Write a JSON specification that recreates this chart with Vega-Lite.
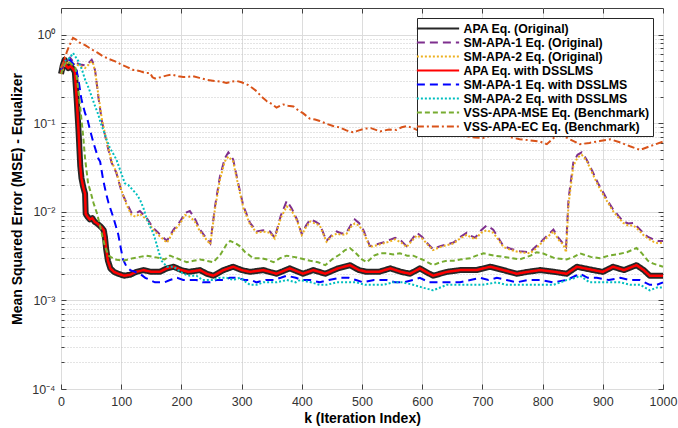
{
 "$schema": "https://vega.github.io/schema/vega-lite/v6.json",
 "width": 602, "height": 381,
 "autosize": {"type": "none"},
 "padding": {"left": 61, "top": 8, "right": 15, "bottom": 39},
 "background": "white",
 "config": {
  "font": "Liberation Sans",
  "view": {"stroke": "#404040", "strokeWidth": 1},
  "axis": {"labelFont": "Liberation Sans", "labelFontSize": 12.5, "labelColor": "#333333", "titleFont": "Liberation Sans", "titleFontSize": 14, "titleFontWeight": "bold", "titleColor": "#000000", "domain": false, "tickColor": "#404040", "tickSize": -5, "labelPadding": 11, "labelFlush": false, "labelOverlap": false},
  "legend": {"orient": "top-right", "offset": 10, "fillColor": "white", "strokeColor": "#262626", "padding": 3, "symbolType": "M-3.25,0H3.25", "symbolSize": 169, "symbolOffset": 10.5, "labelOffset": 18, "symbolStrokeWidth": 2, "labelFont": "Liberation Sans", "labelFontSize": 12.3, "labelFontWeight": "bold", "labelColor": "#000000", "labelLimit": 400, "rowPadding": 0, "title": null}
 },
 "resolve": {"axis": {"x": "independent", "y": "independent"}},
 "data": {"values": [
{"s":"a","k":0,"v":0.36},{"s":"a","k":3,"v":0.45},{"s":"a","k":6,"v":0.52},{"s":"a","k":9,"v":0.44},{"s":"a","k":12,"v":0.42},{"s":"a","k":16,"v":0.44},{"s":"a","k":20,"v":0.41},{"s":"a","k":23,"v":0.38},{"s":"a","k":26,"v":0.19},{"s":"a","k":29,"v":0.085},{"s":"a","k":32,"v":0.033},{"s":"a","k":34,"v":0.024},{"s":"a","k":37,"v":0.019},{"s":"a","k":40,"v":0.016},{"s":"a","k":41,"v":0.0095},{"s":"a","k":44,"v":0.0088},{"s":"a","k":48,"v":0.0082},{"s":"a","k":52,"v":0.0085},{"s":"a","k":56,"v":0.0077},{"s":"a","k":60,"v":0.0074},{"s":"a","k":64,"v":0.007},{"s":"a","k":68,"v":0.0066},{"s":"a","k":71,"v":0.0062},{"s":"a","k":73,"v":0.0052},{"s":"a","k":75,"v":0.0038},{"s":"a","k":78,"v":0.0028},{"s":"a","k":82,"v":0.0023},{"s":"a","k":88,"v":0.0021},{"s":"a","k":95,"v":0.002},{"s":"a","k":105,"v":0.0019},{"s":"a","k":115,"v":0.00195},{"s":"a","k":125,"v":0.0021},{"s":"a","k":137,"v":0.0022},{"s":"a","k":150,"v":0.0021},{"s":"a","k":164,"v":0.0021},{"s":"a","k":176,"v":0.0023},{"s":"a","k":187,"v":0.0024},{"s":"a","k":200,"v":0.0022},{"s":"a","k":212,"v":0.0021},{"s":"a","k":231,"v":0.0022},{"s":"a","k":242,"v":0.002},{"s":"a","k":253,"v":0.0019},{"s":"a","k":270,"v":0.0022},{"s":"a","k":286,"v":0.0024},{"s":"a","k":300,"v":0.0022},{"s":"a","k":314,"v":0.0021},{"s":"a","k":336,"v":0.0022},{"s":"a","k":358,"v":0.002},{"s":"a","k":380,"v":0.0023},{"s":"a","k":402,"v":0.002},{"s":"a","k":419,"v":0.0022},{"s":"a","k":439,"v":0.002},{"s":"a","k":460,"v":0.0023},{"s":"a","k":480,"v":0.0025},{"s":"a","k":495,"v":0.0022},{"s":"a","k":508,"v":0.0021},{"s":"a","k":528,"v":0.0021},{"s":"a","k":547,"v":0.0023},{"s":"a","k":565,"v":0.0021},{"s":"a","k":580,"v":0.002},{"s":"a","k":596,"v":0.0023},{"s":"a","k":618,"v":0.0019},{"s":"a","k":641,"v":0.0021},{"s":"a","k":663,"v":0.0022},{"s":"a","k":690,"v":0.0022},{"s":"a","k":713,"v":0.0024},{"s":"a","k":735,"v":0.0022},{"s":"a","k":757,"v":0.002},{"s":"a","k":775,"v":0.0021},{"s":"a","k":796,"v":0.0022},{"s":"a","k":820,"v":0.0021},{"s":"a","k":840,"v":0.002},{"s":"a","k":857,"v":0.0024},{"s":"a","k":870,"v":0.0023},{"s":"a","k":884,"v":0.0022},{"s":"a","k":900,"v":0.0021},{"s":"a","k":917,"v":0.0024},{"s":"a","k":935,"v":0.0022},{"s":"a","k":956,"v":0.0025},{"s":"a","k":968,"v":0.0022},{"s":"a","k":978,"v":0.0019},{"s":"a","k":990,"v":0.0019},{"s":"a","k":1000,"v":0.0019},
{"s":"d","k":0,"v":0.36},{"s":"d","k":3,"v":0.45},{"s":"d","k":6,"v":0.52},{"s":"d","k":9,"v":0.44},{"s":"d","k":12,"v":0.42},{"s":"d","k":16,"v":0.44},{"s":"d","k":20,"v":0.41},{"s":"d","k":23,"v":0.38},{"s":"d","k":26,"v":0.19},{"s":"d","k":29,"v":0.085},{"s":"d","k":32,"v":0.033},{"s":"d","k":34,"v":0.024},{"s":"d","k":37,"v":0.019},{"s":"d","k":40,"v":0.016},{"s":"d","k":41,"v":0.0095},{"s":"d","k":44,"v":0.0088},{"s":"d","k":48,"v":0.0082},{"s":"d","k":52,"v":0.0085},{"s":"d","k":56,"v":0.0077},{"s":"d","k":60,"v":0.0074},{"s":"d","k":64,"v":0.007},{"s":"d","k":68,"v":0.0066},{"s":"d","k":71,"v":0.0062},{"s":"d","k":73,"v":0.0052},{"s":"d","k":75,"v":0.0038},{"s":"d","k":78,"v":0.0028},{"s":"d","k":82,"v":0.0023},{"s":"d","k":88,"v":0.0021},{"s":"d","k":95,"v":0.002},{"s":"d","k":105,"v":0.0019},{"s":"d","k":115,"v":0.00195},{"s":"d","k":125,"v":0.0021},{"s":"d","k":137,"v":0.0022},{"s":"d","k":150,"v":0.0021},{"s":"d","k":164,"v":0.0021},{"s":"d","k":176,"v":0.0023},{"s":"d","k":187,"v":0.0024},{"s":"d","k":200,"v":0.0022},{"s":"d","k":212,"v":0.0021},{"s":"d","k":231,"v":0.0022},{"s":"d","k":242,"v":0.002},{"s":"d","k":253,"v":0.0019},{"s":"d","k":270,"v":0.0022},{"s":"d","k":286,"v":0.0024},{"s":"d","k":300,"v":0.0022},{"s":"d","k":314,"v":0.0021},{"s":"d","k":336,"v":0.0022},{"s":"d","k":358,"v":0.002},{"s":"d","k":380,"v":0.0023},{"s":"d","k":402,"v":0.002},{"s":"d","k":419,"v":0.0022},{"s":"d","k":439,"v":0.002},{"s":"d","k":460,"v":0.0023},{"s":"d","k":480,"v":0.0025},{"s":"d","k":495,"v":0.0022},{"s":"d","k":508,"v":0.0021},{"s":"d","k":528,"v":0.0021},{"s":"d","k":547,"v":0.0023},{"s":"d","k":565,"v":0.0021},{"s":"d","k":580,"v":0.002},{"s":"d","k":596,"v":0.0023},{"s":"d","k":618,"v":0.0019},{"s":"d","k":641,"v":0.0021},{"s":"d","k":663,"v":0.0022},{"s":"d","k":690,"v":0.0022},{"s":"d","k":713,"v":0.0024},{"s":"d","k":735,"v":0.0022},{"s":"d","k":757,"v":0.002},{"s":"d","k":775,"v":0.0021},{"s":"d","k":796,"v":0.0022},{"s":"d","k":820,"v":0.0021},{"s":"d","k":840,"v":0.002},{"s":"d","k":857,"v":0.0024},{"s":"d","k":870,"v":0.0023},{"s":"d","k":884,"v":0.0022},{"s":"d","k":900,"v":0.0021},{"s":"d","k":917,"v":0.0024},{"s":"d","k":935,"v":0.0022},{"s":"d","k":956,"v":0.0025},{"s":"d","k":968,"v":0.0022},{"s":"d","k":978,"v":0.0019},{"s":"d","k":990,"v":0.0019},{"s":"d","k":1000,"v":0.0019},
{"s":"b","k":0,"v":0.38},{"s":"b","k":5,"v":0.45},{"s":"b","k":10,"v":0.5},{"s":"b","k":15,"v":0.55},{"s":"b","k":20,"v":0.5},{"s":"b","k":25,"v":0.48},{"s":"b","k":32,"v":0.46},{"s":"b","k":40,"v":0.45},{"s":"b","k":46,"v":0.48},{"s":"b","k":51,"v":0.52},{"s":"b","k":54,"v":0.47},{"s":"b","k":57,"v":0.38},{"s":"b","k":62,"v":0.2},{"s":"b","k":68,"v":0.105},{"s":"b","k":76,"v":0.06},{"s":"b","k":84,"v":0.036},{"s":"b","k":92,"v":0.0275},{"s":"b","k":101,"v":0.0165},{"s":"b","k":109,"v":0.0126},{"s":"b","k":117,"v":0.0098},{"s":"b","k":124,"v":0.0096},{"s":"b","k":131,"v":0.0102},{"s":"b","k":142,"v":0.0086},{"s":"b","k":153,"v":0.0066},{"s":"b","k":164,"v":0.0056},{"s":"b","k":176,"v":0.0047},{"s":"b","k":187,"v":0.0063},{"s":"b","k":198,"v":0.0078},{"s":"b","k":206,"v":0.0097},{"s":"b","k":214,"v":0.0102},{"s":"b","k":222,"v":0.0085},{"s":"b","k":231,"v":0.0063},{"s":"b","k":240,"v":0.0052},{"s":"b","k":248,"v":0.0044},{"s":"b","k":256,"v":0.0117},{"s":"b","k":264,"v":0.025},{"s":"b","k":272,"v":0.04},{"s":"b","k":278,"v":0.047},{"s":"b","k":286,"v":0.039},{"s":"b","k":295,"v":0.02},{"s":"b","k":303,"v":0.0116},{"s":"b","k":314,"v":0.0075},{"s":"b","k":325,"v":0.006},{"s":"b","k":336,"v":0.0062},{"s":"b","k":347,"v":0.006},{"s":"b","k":355,"v":0.0051},{"s":"b","k":365,"v":0.009},{"s":"b","k":375,"v":0.0133},{"s":"b","k":383,"v":0.011},{"s":"b","k":392,"v":0.0082},{"s":"b","k":400,"v":0.0056},{"s":"b","k":407,"v":0.007},{"s":"b","k":414,"v":0.0082},{"s":"b","k":422,"v":0.0078},{"s":"b","k":430,"v":0.0072},{"s":"b","k":441,"v":0.0047},{"s":"b","k":450,"v":0.0055},{"s":"b","k":458,"v":0.006},{"s":"b","k":466,"v":0.0057},{"s":"b","k":474,"v":0.0058},{"s":"b","k":482,"v":0.0072},{"s":"b","k":488,"v":0.0082},{"s":"b","k":495,"v":0.0075},{"s":"b","k":502,"v":0.0063},{"s":"b","k":513,"v":0.0041},{"s":"b","k":525,"v":0.0043},{"s":"b","k":535,"v":0.0045},{"s":"b","k":545,"v":0.0048},{"s":"b","k":555,"v":0.0051},{"s":"b","k":565,"v":0.0047},{"s":"b","k":574,"v":0.0041},{"s":"b","k":583,"v":0.0049},{"s":"b","k":591,"v":0.0058},{"s":"b","k":600,"v":0.0052},{"s":"b","k":610,"v":0.0043},{"s":"b","k":618,"v":0.0038},{"s":"b","k":630,"v":0.0041},{"s":"b","k":641,"v":0.0043},{"s":"b","k":652,"v":0.0045},{"s":"b","k":663,"v":0.0052},{"s":"b","k":674,"v":0.0058},{"s":"b","k":680,"v":0.0054},{"s":"b","k":688,"v":0.0051},{"s":"b","k":698,"v":0.0062},{"s":"b","k":707,"v":0.007},{"s":"b","k":718,"v":0.0063},{"s":"b","k":727,"v":0.005},{"s":"b","k":735,"v":0.0041},{"s":"b","k":748,"v":0.0038},{"s":"b","k":762,"v":0.0036},{"s":"b","k":779,"v":0.0035},{"s":"b","k":788,"v":0.004},{"s":"b","k":796,"v":0.0045},{"s":"b","k":808,"v":0.0054},{"s":"b","k":818,"v":0.0063},{"s":"b","k":827,"v":0.005},{"s":"b","k":835,"v":0.0043},{"s":"b","k":839,"v":0.004},{"s":"b","k":843,"v":0.0138},{"s":"b","k":851,"v":0.036},{"s":"b","k":858,"v":0.044},{"s":"b","k":865,"v":0.047},{"s":"b","k":873,"v":0.039},{"s":"b","k":884,"v":0.0275},{"s":"b","k":892,"v":0.021},{"s":"b","k":901,"v":0.0164},{"s":"b","k":909,"v":0.013},{"s":"b","k":917,"v":0.0107},{"s":"b","k":926,"v":0.009},{"s":"b","k":934,"v":0.0078},{"s":"b","k":942,"v":0.0074},{"s":"b","k":951,"v":0.0075},{"s":"b","k":960,"v":0.0065},{"s":"b","k":967,"v":0.0058},{"s":"b","k":975,"v":0.0052},{"s":"b","k":984,"v":0.0049},{"s":"b","k":992,"v":0.0047},{"s":"b","k":1000,"v":0.0047},
{"s":"c","k":0,"v":0.36},{"s":"c","k":5,"v":0.43},{"s":"c","k":10,"v":0.48},{"s":"c","k":15,"v":0.5},{"s":"c","k":20,"v":0.47},{"s":"c","k":25,"v":0.46},{"s":"c","k":32,"v":0.44},{"s":"c","k":40,"v":0.42},{"s":"c","k":46,"v":0.46},{"s":"c","k":51,"v":0.5},{"s":"c","k":54,"v":0.46},{"s":"c","k":57,"v":0.37},{"s":"c","k":62,"v":0.21},{"s":"c","k":68,"v":0.11},{"s":"c","k":76,"v":0.062},{"s":"c","k":84,"v":0.037},{"s":"c","k":92,"v":0.028},{"s":"c","k":101,"v":0.017},{"s":"c","k":109,"v":0.012},{"s":"c","k":117,"v":0.0092},{"s":"c","k":124,"v":0.0088},{"s":"c","k":131,"v":0.0095},{"s":"c","k":142,"v":0.0082},{"s":"c","k":153,"v":0.0063},{"s":"c","k":164,"v":0.0053},{"s":"c","k":176,"v":0.0045},{"s":"c","k":187,"v":0.006},{"s":"c","k":198,"v":0.0074},{"s":"c","k":206,"v":0.0092},{"s":"c","k":214,"v":0.0088},{"s":"c","k":222,"v":0.0078},{"s":"c","k":231,"v":0.006},{"s":"c","k":240,"v":0.005},{"s":"c","k":248,"v":0.0043},{"s":"c","k":256,"v":0.011},{"s":"c","k":264,"v":0.023},{"s":"c","k":272,"v":0.037},{"s":"c","k":278,"v":0.042},{"s":"c","k":286,"v":0.037},{"s":"c","k":295,"v":0.019},{"s":"c","k":303,"v":0.011},{"s":"c","k":314,"v":0.0072},{"s":"c","k":325,"v":0.0058},{"s":"c","k":336,"v":0.006},{"s":"c","k":347,"v":0.0058},{"s":"c","k":355,"v":0.005},{"s":"c","k":365,"v":0.0085},{"s":"c","k":375,"v":0.0115},{"s":"c","k":383,"v":0.0103},{"s":"c","k":392,"v":0.008},{"s":"c","k":400,"v":0.0055},{"s":"c","k":407,"v":0.0067},{"s":"c","k":414,"v":0.0078},{"s":"c","k":422,"v":0.0074},{"s":"c","k":430,"v":0.007},{"s":"c","k":441,"v":0.0046},{"s":"c","k":450,"v":0.0053},{"s":"c","k":458,"v":0.0057},{"s":"c","k":466,"v":0.0055},{"s":"c","k":474,"v":0.0056},{"s":"c","k":482,"v":0.0068},{"s":"c","k":488,"v":0.0074},{"s":"c","k":495,"v":0.007},{"s":"c","k":502,"v":0.006},{"s":"c","k":513,"v":0.004},{"s":"c","k":525,"v":0.0042},{"s":"c","k":535,"v":0.0044},{"s":"c","k":545,"v":0.0046},{"s":"c","k":555,"v":0.0049},{"s":"c","k":565,"v":0.0045},{"s":"c","k":574,"v":0.004},{"s":"c","k":583,"v":0.0047},{"s":"c","k":591,"v":0.0054},{"s":"c","k":600,"v":0.005},{"s":"c","k":610,"v":0.0042},{"s":"c","k":618,"v":0.0037},{"s":"c","k":630,"v":0.004},{"s":"c","k":641,"v":0.0042},{"s":"c","k":652,"v":0.0044},{"s":"c","k":663,"v":0.005},{"s":"c","k":674,"v":0.0055},{"s":"c","k":680,"v":0.0052},{"s":"c","k":688,"v":0.0049},{"s":"c","k":698,"v":0.0058},{"s":"c","k":707,"v":0.0062},{"s":"c","k":718,"v":0.0058},{"s":"c","k":727,"v":0.0048},{"s":"c","k":735,"v":0.004},{"s":"c","k":748,"v":0.0037},{"s":"c","k":762,"v":0.0035},{"s":"c","k":779,"v":0.0034},{"s":"c","k":788,"v":0.0038},{"s":"c","k":796,"v":0.0043},{"s":"c","k":808,"v":0.0052},{"s":"c","k":818,"v":0.006},{"s":"c","k":827,"v":0.0048},{"s":"c","k":835,"v":0.0042},{"s":"c","k":839,"v":0.0035},{"s":"c","k":843,"v":0.012},{"s":"c","k":851,"v":0.033},{"s":"c","k":858,"v":0.041},{"s":"c","k":865,"v":0.044},{"s":"c","k":873,"v":0.038},{"s":"c","k":884,"v":0.026},{"s":"c","k":892,"v":0.02},{"s":"c","k":901,"v":0.0155},{"s":"c","k":909,"v":0.0125},{"s":"c","k":917,"v":0.0102},{"s":"c","k":926,"v":0.0086},{"s":"c","k":934,"v":0.0075},{"s":"c","k":942,"v":0.007},{"s":"c","k":951,"v":0.007},{"s":"c","k":960,"v":0.0062},{"s":"c","k":967,"v":0.0055},{"s":"c","k":975,"v":0.005},{"s":"c","k":984,"v":0.0046},{"s":"c","k":992,"v":0.0044},{"s":"c","k":1000,"v":0.0045},
{"s":"e","k":0,"v":0.4},{"s":"e","k":5,"v":0.48},{"s":"e","k":10,"v":0.5},{"s":"e","k":15,"v":0.52},{"s":"e","k":20,"v":0.47},{"s":"e","k":25,"v":0.42},{"s":"e","k":29,"v":0.31},{"s":"e","k":34,"v":0.185},{"s":"e","k":40,"v":0.13},{"s":"e","k":44,"v":0.11},{"s":"e","k":48,"v":0.085},{"s":"e","k":54,"v":0.06},{"s":"e","k":62,"v":0.04},{"s":"e","k":65,"v":0.037},{"s":"e","k":70,"v":0.023},{"s":"e","k":75,"v":0.016},{"s":"e","k":79,"v":0.0126},{"s":"e","k":87,"v":0.0086},{"s":"e","k":95,"v":0.0056},{"s":"e","k":99,"v":0.004},{"s":"e","k":103,"v":0.0029},{"s":"e","k":109,"v":0.0024},{"s":"e","k":115,"v":0.0022},{"s":"e","k":123,"v":0.0021},{"s":"e","k":131,"v":0.002},{"s":"e","k":140,"v":0.0018},{"s":"e","k":148,"v":0.0017},{"s":"e","k":156,"v":0.0016},{"s":"e","k":164,"v":0.0016},{"s":"e","k":172,"v":0.0016},{"s":"e","k":181,"v":0.0017},{"s":"e","k":193,"v":0.0018},{"s":"e","k":203,"v":0.0017},{"s":"e","k":214,"v":0.0017},{"s":"e","k":225,"v":0.0017},{"s":"e","k":235,"v":0.0016},{"s":"e","k":248,"v":0.0016},{"s":"e","k":258,"v":0.0017},{"s":"e","k":270,"v":0.0017},{"s":"e","k":280,"v":0.0018},{"s":"e","k":292,"v":0.0018},{"s":"e","k":305,"v":0.0017},{"s":"e","k":315,"v":0.0017},{"s":"e","k":325,"v":0.0016},{"s":"e","k":340,"v":0.0017},{"s":"e","k":353,"v":0.0017},{"s":"e","k":365,"v":0.0018},{"s":"e","k":375,"v":0.0019},{"s":"e","k":390,"v":0.0018},{"s":"e","k":400,"v":0.0017},{"s":"e","k":414,"v":0.0017},{"s":"e","k":430,"v":0.0016},{"s":"e","k":445,"v":0.0017},{"s":"e","k":463,"v":0.0018},{"s":"e","k":478,"v":0.0018},{"s":"e","k":490,"v":0.0017},{"s":"e","k":502,"v":0.0016},{"s":"e","k":520,"v":0.0017},{"s":"e","k":541,"v":0.0017},{"s":"e","k":555,"v":0.0016},{"s":"e","k":569,"v":0.0016},{"s":"e","k":585,"v":0.0017},{"s":"e","k":596,"v":0.0018},{"s":"e","k":612,"v":0.0016},{"s":"e","k":630,"v":0.0016},{"s":"e","k":645,"v":0.0016},{"s":"e","k":663,"v":0.0016},{"s":"e","k":680,"v":0.0017},{"s":"e","k":696,"v":0.0018},{"s":"e","k":710,"v":0.0017},{"s":"e","k":724,"v":0.0018},{"s":"e","k":740,"v":0.0017},{"s":"e","k":757,"v":0.0016},{"s":"e","k":775,"v":0.0017},{"s":"e","k":796,"v":0.0017},{"s":"e","k":818,"v":0.0016},{"s":"e","k":840,"v":0.0017},{"s":"e","k":855,"v":0.0019},{"s":"e","k":862,"v":0.002},{"s":"e","k":875,"v":0.0018},{"s":"e","k":890,"v":0.0018},{"s":"e","k":910,"v":0.0017},{"s":"e","k":929,"v":0.0018},{"s":"e","k":945,"v":0.0017},{"s":"e","k":962,"v":0.0017},{"s":"e","k":978,"v":0.0015},{"s":"e","k":990,"v":0.0015},{"s":"e","k":1000,"v":0.0016},
{"s":"f","k":0,"v":0.42},{"s":"f","k":5,"v":0.5},{"s":"f","k":10,"v":0.52},{"s":"f","k":15,"v":0.55},{"s":"f","k":20,"v":0.62},{"s":"f","k":25,"v":0.55},{"s":"f","k":29,"v":0.5},{"s":"f","k":35,"v":0.4},{"s":"f","k":40,"v":0.31},{"s":"f","k":46,"v":0.25},{"s":"f","k":51,"v":0.2},{"s":"f","k":56,"v":0.16},{"s":"f","k":62,"v":0.125},{"s":"f","k":66,"v":0.1},{"s":"f","k":70,"v":0.085},{"s":"f","k":76,"v":0.065},{"s":"f","k":81,"v":0.053},{"s":"f","k":87,"v":0.045},{"s":"f","k":92,"v":0.039},{"s":"f","k":98,"v":0.03},{"s":"f","k":106,"v":0.021},{"s":"f","k":112,"v":0.02},{"s":"f","k":118,"v":0.018},{"s":"f","k":125,"v":0.016},{"s":"f","k":131,"v":0.0138},{"s":"f","k":137,"v":0.011},{"s":"f","k":142,"v":0.0085},{"s":"f","k":148,"v":0.0068},{"s":"f","k":153,"v":0.0058},{"s":"f","k":158,"v":0.0045},{"s":"f","k":162,"v":0.0036},{"s":"f","k":167,"v":0.0028},{"s":"f","k":176,"v":0.0024},{"s":"f","k":187,"v":0.0024},{"s":"f","k":195,"v":0.0022},{"s":"f","k":203,"v":0.002},{"s":"f","k":214,"v":0.0019},{"s":"f","k":225,"v":0.0019},{"s":"f","k":235,"v":0.0017},{"s":"f","k":245,"v":0.0017},{"s":"f","k":253,"v":0.0017},{"s":"f","k":264,"v":0.0018},{"s":"f","k":275,"v":0.0018},{"s":"f","k":286,"v":0.0017},{"s":"f","k":297,"v":0.0018},{"s":"f","k":314,"v":0.0015},{"s":"f","k":325,"v":0.0015},{"s":"f","k":336,"v":0.0016},{"s":"f","k":347,"v":0.0016},{"s":"f","k":358,"v":0.0016},{"s":"f","k":375,"v":0.0017},{"s":"f","k":390,"v":0.0016},{"s":"f","k":397,"v":0.0017},{"s":"f","k":415,"v":0.0016},{"s":"f","k":430,"v":0.0015},{"s":"f","k":441,"v":0.0015},{"s":"f","k":458,"v":0.0016},{"s":"f","k":474,"v":0.0016},{"s":"f","k":490,"v":0.0016},{"s":"f","k":505,"v":0.0015},{"s":"f","k":519,"v":0.0015},{"s":"f","k":535,"v":0.0015},{"s":"f","k":552,"v":0.0016},{"s":"f","k":568,"v":0.0016},{"s":"f","k":585,"v":0.0015},{"s":"f","k":600,"v":0.0014},{"s":"f","k":618,"v":0.0013},{"s":"f","k":630,"v":0.0014},{"s":"f","k":641,"v":0.0015},{"s":"f","k":663,"v":0.0015},{"s":"f","k":680,"v":0.0015},{"s":"f","k":700,"v":0.0015},{"s":"f","k":724,"v":0.0016},{"s":"f","k":740,"v":0.0015},{"s":"f","k":762,"v":0.0015},{"s":"f","k":780,"v":0.0015},{"s":"f","k":800,"v":0.0015},{"s":"f","k":818,"v":0.0015},{"s":"f","k":830,"v":0.0016},{"s":"f","k":840,"v":0.0017},{"s":"f","k":855,"v":0.0018},{"s":"f","k":862,"v":0.0019},{"s":"f","k":878,"v":0.0016},{"s":"f","k":895,"v":0.0016},{"s":"f","k":912,"v":0.0016},{"s":"f","k":929,"v":0.0016},{"s":"f","k":945,"v":0.0015},{"s":"f","k":962,"v":0.0015},{"s":"f","k":978,"v":0.0013},{"s":"f","k":990,"v":0.0014},{"s":"f","k":1000,"v":0.0014},
{"s":"g","k":0,"v":0.36},{"s":"g","k":5,"v":0.45},{"s":"g","k":10,"v":0.5},{"s":"g","k":15,"v":0.48},{"s":"g","k":20,"v":0.45},{"s":"g","k":24,"v":0.42},{"s":"g","k":27,"v":0.3},{"s":"g","k":30,"v":0.2},{"s":"g","k":34,"v":0.11},{"s":"g","k":37,"v":0.07},{"s":"g","k":40,"v":0.04},{"s":"g","k":45,"v":0.021},{"s":"g","k":50,"v":0.016},{"s":"g","k":54,"v":0.0126},{"s":"g","k":60,"v":0.0095},{"s":"g","k":65,"v":0.0069},{"s":"g","k":69,"v":0.0052},{"s":"g","k":73,"v":0.0041},{"s":"g","k":79,"v":0.0032},{"s":"g","k":90,"v":0.0029},{"s":"g","k":103,"v":0.0028},{"s":"g","k":120,"v":0.003},{"s":"g","k":131,"v":0.0031},{"s":"g","k":142,"v":0.0032},{"s":"g","k":153,"v":0.0031},{"s":"g","k":165,"v":0.003},{"s":"g","k":172,"v":0.0029},{"s":"g","k":181,"v":0.0032},{"s":"g","k":192,"v":0.003},{"s":"g","k":209,"v":0.0027},{"s":"g","k":220,"v":0.0028},{"s":"g","k":231,"v":0.0029},{"s":"g","k":242,"v":0.0028},{"s":"g","k":253,"v":0.0027},{"s":"g","k":265,"v":0.0033},{"s":"g","k":275,"v":0.0043},{"s":"g","k":281,"v":0.0047},{"s":"g","k":290,"v":0.0044},{"s":"g","k":297,"v":0.0041},{"s":"g","k":306,"v":0.0035},{"s":"g","k":314,"v":0.0032},{"s":"g","k":319,"v":0.003},{"s":"g","k":331,"v":0.003},{"s":"g","k":342,"v":0.0029},{"s":"g","k":353,"v":0.0027},{"s":"g","k":364,"v":0.003},{"s":"g","k":375,"v":0.0032},{"s":"g","k":386,"v":0.0031},{"s":"g","k":397,"v":0.003},{"s":"g","k":414,"v":0.0028},{"s":"g","k":427,"v":0.0027},{"s":"g","k":439,"v":0.0025},{"s":"g","k":450,"v":0.0029},{"s":"g","k":463,"v":0.0033},{"s":"g","k":472,"v":0.0037},{"s":"g","k":480,"v":0.0039},{"s":"g","k":490,"v":0.0034},{"s":"g","k":500,"v":0.0029},{"s":"g","k":508,"v":0.0027},{"s":"g","k":520,"v":0.0032},{"s":"g","k":530,"v":0.0034},{"s":"g","k":541,"v":0.0034},{"s":"g","k":552,"v":0.0033},{"s":"g","k":563,"v":0.0034},{"s":"g","k":575,"v":0.0032},{"s":"g","k":585,"v":0.0032},{"s":"g","k":600,"v":0.0029},{"s":"g","k":618,"v":0.0025},{"s":"g","k":630,"v":0.0027},{"s":"g","k":641,"v":0.0028},{"s":"g","k":652,"v":0.0028},{"s":"g","k":663,"v":0.0029},{"s":"g","k":680,"v":0.003},{"s":"g","k":690,"v":0.0032},{"s":"g","k":702,"v":0.0034},{"s":"g","k":710,"v":0.0033},{"s":"g","k":720,"v":0.0032},{"s":"g","k":735,"v":0.0031},{"s":"g","k":748,"v":0.003},{"s":"g","k":762,"v":0.0029},{"s":"g","k":780,"v":0.0032},{"s":"g","k":790,"v":0.0035},{"s":"g","k":800,"v":0.0034},{"s":"g","k":820,"v":0.003},{"s":"g","k":840,"v":0.0029},{"s":"g","k":852,"v":0.0031},{"s":"g","k":862,"v":0.0034},{"s":"g","k":880,"v":0.0031},{"s":"g","k":895,"v":0.003},{"s":"g","k":910,"v":0.0032},{"s":"g","k":923,"v":0.0033},{"s":"g","k":940,"v":0.0035},{"s":"g","k":956,"v":0.0039},{"s":"g","k":965,"v":0.0034},{"s":"g","k":975,"v":0.0028},{"s":"g","k":984,"v":0.0026},{"s":"g","k":1000,"v":0.0024},
{"s":"h","k":0,"v":0.42},{"s":"h","k":5,"v":0.5},{"s":"h","k":10,"v":0.65},{"s":"h","k":15,"v":0.78},{"s":"h","k":20,"v":0.92},{"s":"h","k":25,"v":0.88},{"s":"h","k":30,"v":0.82},{"s":"h","k":40,"v":0.76},{"s":"h","k":50,"v":0.69},{"s":"h","k":60,"v":0.63},{"s":"h","k":70,"v":0.57},{"s":"h","k":80,"v":0.53},{"s":"h","k":90,"v":0.5},{"s":"h","k":100,"v":0.46},{"s":"h","k":110,"v":0.43},{"s":"h","k":120,"v":0.4},{"s":"h","k":130,"v":0.39},{"s":"h","k":140,"v":0.37},{"s":"h","k":148,"v":0.37},{"s":"h","k":152,"v":0.33},{"s":"h","k":156,"v":0.32},{"s":"h","k":165,"v":0.33},{"s":"h","k":175,"v":0.345},{"s":"h","k":184,"v":0.354},{"s":"h","k":195,"v":0.34},{"s":"h","k":203,"v":0.333},{"s":"h","k":212,"v":0.335},{"s":"h","k":219,"v":0.34},{"s":"h","k":230,"v":0.325},{"s":"h","k":242,"v":0.31},{"s":"h","k":255,"v":0.3},{"s":"h","k":265,"v":0.295},{"s":"h","k":275,"v":0.285},{"s":"h","k":284,"v":0.295},{"s":"h","k":292,"v":0.3},{"s":"h","k":300,"v":0.29},{"s":"h","k":311,"v":0.27},{"s":"h","k":318,"v":0.25},{"s":"h","k":325,"v":0.23},{"s":"h","k":333,"v":0.2},{"s":"h","k":342,"v":0.177},{"s":"h","k":350,"v":0.165},{"s":"h","k":358,"v":0.15},{"s":"h","k":364,"v":0.158},{"s":"h","k":369,"v":0.163},{"s":"h","k":377,"v":0.158},{"s":"h","k":386,"v":0.155},{"s":"h","k":394,"v":0.14},{"s":"h","k":402,"v":0.13},{"s":"h","k":413,"v":0.113},{"s":"h","k":422,"v":0.11},{"s":"h","k":430,"v":0.106},{"s":"h","k":442,"v":0.098},{"s":"h","k":452,"v":0.093},{"s":"h","k":462,"v":0.09},{"s":"h","k":474,"v":0.083},{"s":"h","k":485,"v":0.079},{"s":"h","k":495,"v":0.083},{"s":"h","k":505,"v":0.087},{"s":"h","k":515,"v":0.088},{"s":"h","k":530,"v":0.081},{"s":"h","k":545,"v":0.085},{"s":"h","k":557,"v":0.084},{"s":"h","k":566,"v":0.09},{"s":"h","k":574,"v":0.093},{"s":"h","k":585,"v":0.088},{"s":"h","k":596,"v":0.081},{"s":"h","k":608,"v":0.079},{"s":"h","k":620,"v":0.078},{"s":"h","k":630,"v":0.077},{"s":"h","k":641,"v":0.075},{"s":"h","k":655,"v":0.074},{"s":"h","k":674,"v":0.071},{"s":"h","k":688,"v":0.069},{"s":"h","k":701,"v":0.068},{"s":"h","k":715,"v":0.073},{"s":"h","k":729,"v":0.078},{"s":"h","k":745,"v":0.07},{"s":"h","k":762,"v":0.066},{"s":"h","k":780,"v":0.064},{"s":"h","k":796,"v":0.062},{"s":"h","k":807,"v":0.058},{"s":"h","k":818,"v":0.068},{"s":"h","k":829,"v":0.075},{"s":"h","k":845,"v":0.066},{"s":"h","k":862,"v":0.058},{"s":"h","k":878,"v":0.06},{"s":"h","k":895,"v":0.063},{"s":"h","k":912,"v":0.066},{"s":"h","k":928,"v":0.061},{"s":"h","k":945,"v":0.055},{"s":"h","k":962,"v":0.05},{"s":"h","k":975,"v":0.054},{"s":"h","k":988,"v":0.058},{"s":"h","k":1000,"v":0.062}
 ]},
 "encoding": {
  "color": {"field": "s", "type": "nominal",
            "scale": {"domain": ["a","b","c","d","e","f","g","h"], "range": ["#262626","#7E2F8E","#EDB120","#FF0000","#0000FF","#00BFBF","#77AC30","#D95319"]},
            "legend": {"labelExpr": "datum.value=='a'?'APA Eq. (Original)':datum.value=='b'?'SM-APA-1 Eq. (Original)':datum.value=='c'?'SM-APA-2 Eq. (Original)':datum.value=='d'?'APA Eq. with DSSLMS':datum.value=='e'?'SM-APA-1 Eq. with DSSLMS':datum.value=='f'?'SM-APA-2 Eq. with DSSLMS':datum.value=='g'?'VSS-APA-MSE Eq. (Benchmark)':'VSS-APA-EC Eq. (Benchmark)'"}},
  "strokeDash": {"field": "s", "type": "nominal",
            "scale": {"domain": ["a","b","c","d","e","f","g","h"], "range": [[1,0],[8,5],[2,2],[1,0],[8,5],[2,2],[5,3],[7,3,2,3]]},
            "legend": {"labelExpr": "datum.value=='a'?'APA Eq. (Original)':datum.value=='b'?'SM-APA-1 Eq. (Original)':datum.value=='c'?'SM-APA-2 Eq. (Original)':datum.value=='d'?'APA Eq. with DSSLMS':datum.value=='e'?'SM-APA-1 Eq. with DSSLMS':datum.value=='f'?'SM-APA-2 Eq. with DSSLMS':datum.value=='g'?'VSS-APA-MSE Eq. (Benchmark)':'VSS-APA-EC Eq. (Benchmark)'"}}
 },
 "layer": [
  {"transform": [{"filter": "datum.s === 'a'"}], "mark": {"type": "line", "strokeWidth": 6, "strokeJoin": "round"},
   "encoding": {
    "x": {"field": "k", "type": "quantitative", "title": "k (Iteration Index)",
          "scale": {"domain": [0, 1000], "nice": false},
          "axis": {"values": [0,100,200,300,400,500,600,700,800,900,1000], "format": "d", "grid": true, "gridColor": "#dcdcdc", "titlePadding": 4}},
    "y": {"field": "v", "type": "quantitative", "title": "Mean Squared Error (MSE) - Equalizer",
          "scale": {"type": "log", "domain": [0.0001, 2], "nice": false},
          "axis": {"values": [0.0001,0.0002,0.0003,0.0004,0.0005,0.0006,0.0007,0.0008,0.0009,0.001,0.002,0.003,0.004,0.005,0.006,0.007,0.008,0.009,0.01,0.02,0.03,0.04,0.05,0.06,0.07,0.08,0.09,0.1,0.2,0.3,0.4,0.5,0.6,0.7,0.8,0.9,1],
                   "grid": true,
                   "labelExpr": "abs(log(datum.value)/LN10 - round(log(datum.value)/LN10)) > 0.01 ? '' : ['10⁰','10⁻¹','10⁻²','10⁻³','10⁻⁴'][-round(log(datum.value)/LN10)]",
                   "gridDash": {"condition": {"test": "abs(log(datum.value)/LN10 - round(log(datum.value)/LN10)) < 0.01", "value": []}, "value": [1, 2]},
                   "gridColor": {"condition": {"test": "abs(log(datum.value)/LN10 - round(log(datum.value)/LN10)) < 0.01", "value": "#dcdcdc"}, "value": "#c8c8c8"},
                   "tickSize": {"condition": {"test": "abs(log(datum.value)/LN10 - round(log(datum.value)/LN10)) < 0.01", "value": -5}, "value": -3},
                   "labelPadding": 11, "titleX": -44, "titleBaseline": "middle"}}
   }},
  {"transform": [{"filter": "datum.s === 'b' || datum.s === 'c'"}], "mark": {"type": "line", "strokeWidth": 2},
   "encoding": {"x": {"field": "k", "type": "quantitative", "axis": null}, "y": {"field": "v", "type": "quantitative", "axis": null}}},
  {"transform": [{"filter": "datum.s === 'd'"}], "mark": {"type": "line", "strokeWidth": 2.5},
   "encoding": {"x": {"field": "k", "type": "quantitative", "axis": null}, "y": {"field": "v", "type": "quantitative", "axis": null}}},
  {"transform": [{"filter": "datum.s === 'e' || datum.s === 'f' || datum.s === 'g' || datum.s === 'h'"}], "mark": {"type": "line", "strokeWidth": 2},
   "encoding": {
    "x": {"field": "k", "type": "quantitative",
          "axis": {"orient": "top", "values": [0,100,200,300,400,500,600,700,800,900,1000], "labels": false, "grid": false, "title": null}},
    "y": {"field": "v", "type": "quantitative",
          "axis": {"orient": "right", "values": [0.0001,0.0002,0.0003,0.0004,0.0005,0.0006,0.0007,0.0008,0.0009,0.001,0.002,0.003,0.004,0.005,0.006,0.007,0.008,0.009,0.01,0.02,0.03,0.04,0.05,0.06,0.07,0.08,0.09,0.1,0.2,0.3,0.4,0.5,0.6,0.7,0.8,0.9,1],
                   "labels": false, "grid": false, "title": null,
                   "tickSize": {"condition": {"test": "abs(log(datum.value)/LN10 - round(log(datum.value)/LN10)) < 0.01", "value": -5}, "value": -3}}}
   }}
 ]
}
